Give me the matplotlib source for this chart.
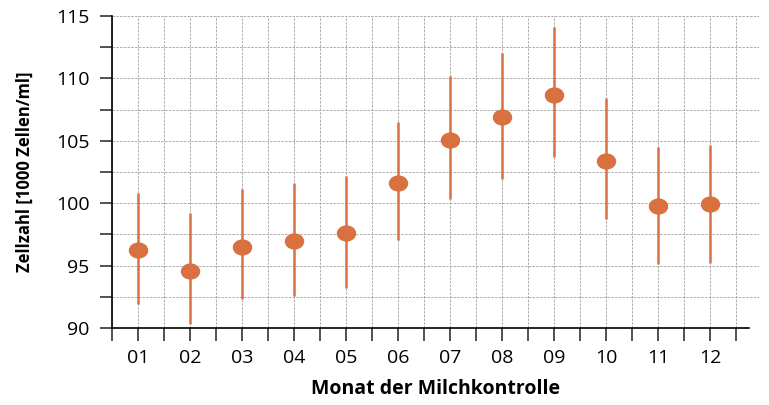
import matplotlib.pyplot as plt
import numpy as np
from matplotlib.path import Path
from matplotlib.ticker import MultipleLocator

months = ['01', '02', '03', '04', '05', '06', '07', '08', '09', '10', '11', '12']
mean = [96.25, 94.6, 96.5, 97.0, 97.6, 101.6, 105.1, 106.9, 108.7, 103.4, 99.8, 99.9]
upper = [100.8, 99.2, 101.1, 101.6, 102.2, 106.5, 110.2, 112.0, 114.1, 108.4, 104.5, 104.7]
lower = [91.9, 90.3, 92.3, 92.6, 93.2, 97.05, 100.3, 101.95, 103.7, 98.7, 95.1, 95.2]

orange = '#d8713f'
plt.rcParams['font.family'] = ['Open Sans', 'DejaVu Sans']

fig = plt.figure(figsize=(7.69, 4.05), dpi=100)
ax = fig.add_axes([0.1456, 0.19, 0.842, 0.7705])

x = np.arange(1, len(months) + 1)
mean = np.array(mean)
yerr = [mean - np.array(lower), np.array(upper) - mean]

# slightly flattened dot
circ = Path.unit_circle()
ellipse = Path(circ.vertices * [1.0, 0.82], circ.codes)

ax.errorbar(x, mean, yerr=yerr, fmt='none', ecolor=orange, elinewidth=1.8, capsize=0, zorder=3)
ax.plot(x, mean, linestyle='none', marker=ellipse, markersize=13, color=orange, zorder=4)

ax.set_xlim(0.5, 12.95)
ax.set_ylim(90, 115)
ax.set_xticks(x)
ax.set_xticklabels(months)
ax.set_xticks(np.arange(0.5, 13, 1.0), minor=True)
ax.yaxis.set_major_locator(MultipleLocator(5))
ax.yaxis.set_minor_locator(MultipleLocator(2.5))

ax.grid(True, which='both', color='#a0a0a0', linestyle=(0, (3, 1.5)), linewidth=0.6)
ax.set_axisbelow(True)

for s in ['top', 'right']:
    ax.spines[s].set_visible(False)
ax.spines['left'].set_linewidth(1.2)
ax.spines['bottom'].set_linewidth(1.2)
ax.spines['bottom'].set_bounds(0.5, 12.74)

ax.tick_params(axis='both', which='both', direction='out', length=9, width=1.1, color='#222222')
ax.tick_params(axis='x', which='major', pad=6, labelsize=14)
ax.tick_params(axis='y', which='major', pad=7, labelsize=14)

ax.set_xlabel('Monat der Milchkontrolle', fontsize=14, fontweight='bold', labelpad=9)
ax.set_ylabel('Zellzahl [1000 Zellen/ml]', fontsize=12, fontweight='bold', labelpad=16)

fig.savefig('out.png', dpi=100)
